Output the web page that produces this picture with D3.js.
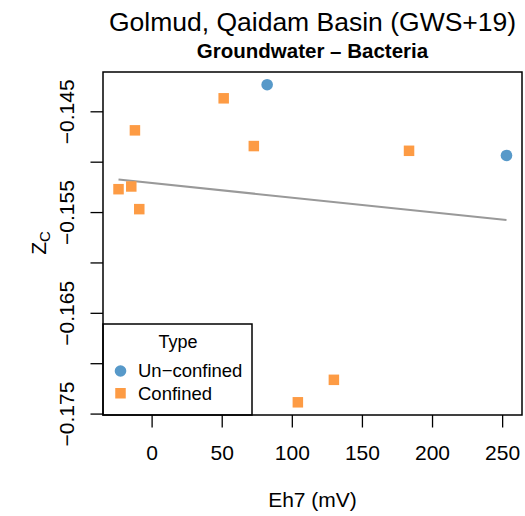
<!DOCTYPE html>
<html><head><meta charset="utf-8">
<script src="https://cdn.jsdelivr.net/npm/d3@7"></script>
<style>body{margin:0;background:#fff}text{font-family:"Liberation Sans",Arial,sans-serif}</style>
</head><body><svg id="c" width="525" height="516"></svg>
<script>
const types = ["Un\u2212confined","Confined"];
const colors = ["#5799c9","#fd9b44"];
const unconfinedEh = [82.4, 253.1];
const unconfinedZ = [-0.14236, -0.14938];
const confinedEh = [51.4, -11.9, 72.9, -23.6, -14.5, -8.8, 183.6, 104.3, 130.0];
const confinedZ = [-0.14371, -0.14689, -0.14845, -0.15273, -0.15246, -0.15471, -0.14892, -0.17388, -0.17165];
const xTicks = [0, 50, 100, 150, 200, 250];
const yTicks = [-0.145, -0.150, -0.155, -0.160, -0.165, -0.170, -0.175];
const yLabels = [-0.145, -0.155, -0.165, -0.175];

const svg = d3.select("#c");
const L = 103, R = 522, T = 72, B = 415, TK = 12.5;
const allX = unconfinedEh.concat(confinedEh), allY = unconfinedZ.concat(confinedZ);
const pad = ([a, b]) => [a - 0.04*(b-a), b + 0.04*(b-a)];
const x = d3.scaleLinear().domain(pad(d3.extent(allX))).range([L, R]);
const y = d3.scaleLinear().domain(pad(d3.extent(allY))).range([B, T]);

// axes
const xa = svg.append("g").attr("transform", `translate(0,${B})`)
  .call(d3.axisBottom(x).tickValues(xTicks).tickSize(TK).tickFormat(d3.format("d")));
xa.select(".domain").remove();
xa.selectAll("line").attr("stroke", "#000").attr("stroke-width", 1.3);
xa.selectAll("text").attr("font-size", 21).attr("fill", "#000").attr("dy", null).attr("y", 45);

const ya = svg.append("g").attr("transform", `translate(${L},0)`)
  .call(d3.axisLeft(y).tickValues(yTicks).tickSize(TK).tickFormat(d => yLabels.some(v => Math.abs(v-d)<1e-9) ? d3.format(".3f")(d).replace("-","\u2212") : ""));
ya.select(".domain").remove();
ya.selectAll("line").attr("stroke", "#000").attr("stroke-width", 1.3);
ya.selectAll("text").attr("font-size", 21).attr("fill", "#000")
  .attr("text-anchor","middle").attr("dy", null).attr("x", null)
  .attr("transform", `translate(${74-L},0) rotate(-90)`);

// regression line (OLS over all points)
const mx = d3.mean(allX), my = d3.mean(allY);
const slope = d3.sum(allX, (v,i) => (v-mx)*(allY[i]-my)) / d3.sum(allX, v => (v-mx)**2);
const icpt = my - slope*mx;
const [x0, x1] = d3.extent(allX);
svg.append("line").attr("x1", x(x0)).attr("y1", y(icpt+slope*x0)).attr("x2", x(x1)).attr("y2", y(icpt+slope*x1))
  .attr("stroke", "#999").attr("stroke-width", 2);

// points
svg.append("g").selectAll("rect").data(confinedEh).join("rect")
  .attr("x", d => x(d)-5.25).attr("y", (d,i) => y(confinedZ[i])-5.25).attr("width", 10.5).attr("height", 10.5)
  .attr("fill", colors[1]);
svg.append("g").selectAll("circle").data(unconfinedEh).join("circle")
  .attr("cx", d => x(d)).attr("cy", (d,i) => y(unconfinedZ[i])).attr("r", 5.8).attr("fill", colors[0]);

// legend
const lg = svg.append("g");
lg.append("rect").attr("x", L).attr("y", 324).attr("width", 149).attr("height", B-324).attr("fill","#fff").attr("stroke","#000").attr("stroke-width",1.5);
lg.append("text").attr("x", 178).attr("y", 342).attr("dy","0.35em").attr("text-anchor","middle").attr("font-size",18).text("Type");
lg.append("circle").attr("cx", 120.5).attr("cy", 371).attr("r", 5.8).attr("fill", colors[0]);
lg.append("rect").attr("x", 115.25).attr("y", 388).attr("width", 10.5).attr("height", 10.5).attr("fill", colors[1]);
lg.append("text").attr("x", 138).attr("y", 371).attr("dy","0.35em").attr("font-size",18.5).text(types[0]);
lg.append("text").attr("x", 138).attr("y", 393.5).attr("dy","0.35em").attr("font-size",18.5).text(types[1]);

// box
svg.append("rect").attr("x", L).attr("y", T).attr("width", R-L).attr("height", B-T).attr("fill","none").attr("stroke","#000").attr("stroke-width",1.5);

// titles
svg.append("text").attr("x", (L+R)/2).attr("y", 31).attr("text-anchor","middle").attr("font-size",26.5).text("Golmud, Qaidam Basin (GWS+19)");
svg.append("text").attr("x", (L+R)/2).attr("y", 58).attr("text-anchor","middle").attr("font-size",20.5).attr("font-weight","bold").text("Groundwater \u2013 Bacteria");
svg.append("text").attr("x", (L+R)/2).attr("y", 507).attr("text-anchor","middle").attr("font-size",21).text("Eh7 (mV)");
const yt = svg.append("text").attr("transform", "translate(46,243) rotate(-90)").attr("text-anchor","middle").attr("font-size",21);
yt.append("tspan").text("Z");
yt.append("tspan").attr("font-size",15).attr("dy", 4).text("C");
</script></body></html>
